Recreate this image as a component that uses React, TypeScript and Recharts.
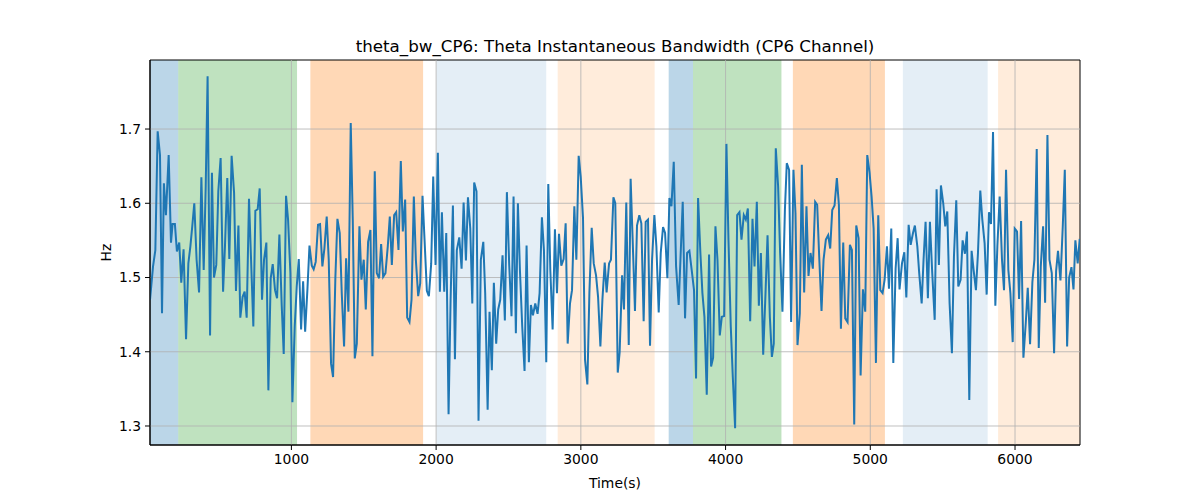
import React from 'react';
import { ComposedChart, Line, XAxis, YAxis, ReferenceArea, ReferenceLine, Label } from 'recharts';

const times = [
  23, 44, 60, 76, 92, 106, 119, 133, 152, 168, 179, 195, 209, 225, 239, 255, 272, 288, 302, 315, 329, 345, 362, 378, 394, 408, 421, 438, 451, 465, 481, 495, 511, 528, 541, 557, 571, 587, 604, 617, 634, 647, 663, 677, 691, 707, 737, 751, 767, 781,
  797, 811, 827, 841, 857, 871, 887, 901, 917, 933, 947, 963, 977, 993, 1007, 1023, 1037, 1051, 1067, 1081, 1095, 1111, 1125, 1141, 1154, 1168, 1184, 1198, 1214, 1228, 1244, 1258, 1274, 1288, 1304, 1318, 1334, 1348, 1364, 1378, 1394, 1410, 1424, 1438, 1452, 1470, 1484, 1500, 1514, 1530,
  1546, 1560, 1576, 1590, 1606, 1620, 1634, 1650, 1666, 1680, 1694, 1710, 1724, 1740, 1756, 1770, 1786, 1800, 1816, 1830, 1846, 1860, 1876, 1890, 1906, 1920, 1936, 1950, 1966, 1980, 1996, 2012, 2026, 2040, 2056, 2070, 2086, 2100, 2116, 2130, 2143, 2160, 2176, 2190, 2206, 2220,
  2236, 2250, 2263, 2279, 2293, 2309, 2326, 2339, 2356, 2369, 2385, 2399, 2415, 2429, 2443, 2459, 2475, 2489, 2505, 2521, 2535, 2551, 2565, 2579, 2595, 2611, 2625, 2641, 2655, 2669, 2685, 2701, 2715, 2731, 2745, 2761, 2775, 2789, 2805, 2821, 2835, 2849, 2865, 2881, 2895, 2909,
  2925, 2939, 2955, 2969, 2985, 2999, 3015, 3029, 3045, 3059, 3075, 3089, 3105, 3119, 3135, 3149, 3165, 3178, 3195, 3208, 3225, 3238, 3255, 3268, 3285, 3298, 3314, 3331, 3344, 3358, 3374, 3388, 3404, 3418, 3434, 3448, 3464, 3478, 3492, 3508, 3522, 3538, 3552, 3568, 3582, 3598, 3612,
  3626, 3642, 3658, 3676, 3690, 3704, 3720, 3734, 3750, 3766, 3782, 3796, 3810, 3826, 3840, 3854, 3870, 3886, 3900, 3914, 3930, 3944, 3960, 3974, 3990, 4006, 4020, 4036, 4050, 4066, 4080, 4096, 4110, 4126, 4140, 4154, 4170, 4186, 4200, 4216, 4230, 4244, 4260, 4276, 4290, 4306,
  4320, 4333, 4347, 4363, 4377, 4393, 4410, 4423, 4439, 4453, 4469, 4483, 4497, 4513, 4527, 4543, 4559, 4573, 4587, 4603, 4619, 4633, 4647, 4663, 4677, 4693, 4709, 4723, 4737, 4753, 4769, 4783, 4797, 4813, 4827, 4843, 4859, 4873, 4889, 4903, 4919, 4933, 4949, 4965, 4979, 4995,
  5009, 5023, 5039, 5055, 5069, 5085, 5099, 5115, 5129, 5145, 5159, 5175, 5189, 5202, 5219, 5235, 5249, 5265, 5279, 5295, 5308, 5325, 5338, 5355, 5368, 5382, 5398, 5412, 5428, 5445, 5458, 5474, 5488, 5504, 5518, 5532, 5548, 5564, 5578, 5594, 5608, 5624, 5638, 5654, 5668, 5684,
  5700, 5714, 5730, 5744, 5760, 5774, 5790, 5804, 5820, 5834, 5848, 5864, 5878, 5894, 5910, 5924, 5938, 5954, 5968, 5984, 5998, 6014, 6028, 6042, 6058, 6074, 6088, 6104, 6120, 6134, 6150, 6164, 6178, 6194, 6208, 6224, 6238, 6254, 6270, 6284, 6297, 6314, 6330, 6344, 6360, 6374, 6390, 6404, 6417, 6433, 6447,
];

const hzValues = [
  1.470, 1.515, 1.537, 1.697, 1.665, 1.452, 1.627, 1.584, 1.665, 1.547, 1.572, 1.572, 1.535, 1.547, 1.493, 1.538, 1.417, 1.519, 1.542, 1.569, 1.600, 1.524, 1.480, 1.635, 1.510, 1.623, 1.771, 1.422, 1.641, 1.500, 1.517, 1.616, 1.661, 1.481, 1.542, 1.634, 1.525, 1.664, 1.614, 1.482, 1.570, 1.446, 1.474, 1.481, 1.446, 1.606, 1.434, 1.590, 1.592, 1.620,
  1.470, 1.524, 1.547, 1.348, 1.499, 1.518, 1.483, 1.472, 1.558, 1.463, 1.397, 1.610, 1.578, 1.506, 1.332, 1.434, 1.488, 1.525, 1.430, 1.495, 1.427, 1.485, 1.543, 1.516, 1.511, 1.521, 1.571, 1.572, 1.515, 1.539, 1.582, 1.524, 1.384, 1.366, 1.501, 1.579, 1.560, 1.479, 1.407, 1.526, 1.454, 1.708, 1.578, 1.391, 1.411, 1.569, 1.497, 1.524, 1.457, 1.548,
  1.564, 1.394, 1.643, 1.506, 1.499, 1.545, 1.501, 1.506, 1.542, 1.582, 1.517, 1.584, 1.588, 1.537, 1.657, 1.562, 1.605, 1.446, 1.440, 1.470, 1.609, 1.524, 1.475, 1.492, 1.610, 1.551, 1.482, 1.475, 1.519, 1.636, 1.517, 1.668, 1.481, 1.588, 1.481, 1.560, 1.316, 1.470, 1.597, 1.390, 1.537, 1.554, 1.512, 1.601, 1.523, 1.608,
  1.566, 1.465, 1.628, 1.616, 1.307, 1.524, 1.548, 1.479, 1.322, 1.454, 1.375, 1.493, 1.411, 1.457, 1.470, 1.530, 1.442, 1.615, 1.517, 1.448, 1.609, 1.425, 1.600, 1.510, 1.434, 1.374, 1.543, 1.386, 1.463, 1.449, 1.465, 1.451, 1.479, 1.581, 1.537, 1.386, 1.626, 1.510, 1.430, 1.565, 1.479, 1.559, 1.516, 1.525, 1.573, 1.411,
  1.465, 1.483, 1.596, 1.524, 1.664, 1.636, 1.580, 1.389, 1.356, 1.479, 1.567, 1.519, 1.503, 1.474, 1.407, 1.470, 1.520, 1.480, 1.519, 1.524, 1.608, 1.600, 1.372, 1.399, 1.503, 1.457, 1.601, 1.409, 1.633, 1.551, 1.455, 1.570, 1.584, 1.573, 1.441, 1.575, 1.578, 1.408, 1.524, 1.584, 1.542, 1.453, 1.533, 1.568, 1.560, 1.499, 1.607,
  1.596, 1.656, 1.515, 1.463, 1.533, 1.602, 1.445, 1.533, 1.536, 1.510, 1.483, 1.364, 1.607, 1.533, 1.479, 1.447, 1.342, 1.531, 1.380, 1.392, 1.569, 1.524, 1.422, 1.447, 1.448, 1.680, 1.551, 1.434, 1.366, 1.297, 1.584, 1.588, 1.551, 1.584, 1.578, 1.593, 1.441, 1.579, 1.515, 1.602, 1.462, 1.533, 1.396, 1.479, 1.557, 1.447,
  1.393, 1.411, 1.674, 1.623, 1.533, 1.454, 1.591, 1.654, 1.645, 1.440, 1.645, 1.587, 1.409, 1.452, 1.652, 1.480, 1.596, 1.502, 1.533, 1.512, 1.602, 1.598, 1.528, 1.455, 1.524, 1.551, 1.557, 1.539, 1.591, 1.597, 1.634, 1.598, 1.431, 1.547, 1.445, 1.440, 1.544, 1.537, 1.302, 1.570, 1.553, 1.368, 1.484, 1.454, 1.665, 1.641,
  1.609, 1.566, 1.385, 1.584, 1.483, 1.479, 1.497, 1.542, 1.485, 1.566, 1.385, 1.512, 1.553, 1.484, 1.519, 1.534, 1.473, 1.571, 1.544, 1.560, 1.570, 1.542, 1.506, 1.465, 1.524, 1.575, 1.472, 1.575, 1.506, 1.443, 1.619, 1.517, 1.624, 1.600, 1.569, 1.589, 1.465, 1.398, 1.528, 1.604, 1.488, 1.497, 1.550, 1.532, 1.562, 1.335,
  1.536, 1.510, 1.483, 1.533, 1.617, 1.578, 1.546, 1.477, 1.588, 1.572, 1.696, 1.462, 1.542, 1.609, 1.524, 1.483, 1.645, 1.510, 1.479, 1.413, 1.566, 1.562, 1.471, 1.576, 1.392, 1.438, 1.486, 1.410, 1.494, 1.524, 1.673, 1.405, 1.515, 1.569, 1.466, 1.692, 1.524, 1.506, 1.398, 1.509, 1.536, 1.496, 1.569, 1.645, 1.407, 1.500, 1.514, 1.484, 1.550, 1.519, 1.552,
];

const spanStarts = [23, 218, 1131, 2002, 2840, 3607, 3775, 4465, 5225, 5883];
const spanEnds = [218, 1039, 1910, 2761, 3510, 3775, 4386, 5101, 5811, 6449];
const spanColors = ['#1f77b4', '#2ca02c', '#ff7f0e', '#1f77b4', '#ff7f0e', '#1f77b4', '#2ca02c', '#ff7f0e', '#1f77b4', '#ff7f0e'];
const spanOpacities = [0.3, 0.3, 0.3, 0.12, 0.15, 0.3, 0.3, 0.3, 0.12, 0.15];

const xTicks = [1000, 2000, 3000, 4000, 5000, 6000];
const yTicks = [1.3, 1.4, 1.5, 1.6, 1.7];
const xDomain = [23, 6449];
const yDomain = [1.2744, 1.793];

const data = times.map((t, i) => ({ t, v: hzValues[i] }));

const FONT = 'DejaVu Sans, sans-serif';
const GRID = '#b0b0b0';

export default function App() {
  return (
    <div style={{ position: 'absolute', left: 0, top: 0, width: 1200, height: 500, background: '#fff', fontFamily: FONT }}>
      <div
        style={{
          position: 'absolute',
          left: 0,
          top: 36,
          width: 1230,
          textAlign: 'center',
          fontSize: 16.7,
          lineHeight: '20px',
          color: '#000',
          fontFamily: FONT,
        }}
      >
        theta_bw_CP6: Theta Instantaneous Bandwidth (CP6 Channel)
      </div>
      <ComposedChart width={1200} height={500} data={data} margin={{ top: 60, right: 120, bottom: 0, left: 0 }}>
        {spanStarts.map((s, i) => (
          <ReferenceArea
            key={'span' + i}
            x1={s}
            x2={spanEnds[i]}
            y1={yDomain[0]}
            y2={yDomain[1]}
            fill={spanColors[i]}
            fillOpacity={spanOpacities[i]}
            stroke="none"
            ifOverflow="hidden"
          />
        ))}
        {xTicks.map((x) => (
          <ReferenceLine key={'gx' + x} x={x} stroke={GRID} strokeWidth={0.8} />
        ))}
        {yTicks.map((y) => (
          <ReferenceLine key={'gy' + y} y={y} stroke={GRID} strokeWidth={0.8} />
        ))}
        <XAxis
          dataKey="t"
          type="number"
          domain={xDomain}
          ticks={xTicks}
          allowDataOverflow
          height={55}
          tickSize={5}
          tickMargin={4}
          stroke="#000"
          tick={{ fill: '#000', fontSize: 13.9, fontFamily: FONT }}
          tickLine={{ stroke: '#000' }}
          axisLine={{ stroke: '#000' }}
        >
          <Label value="Time(s)" position="insideBottom" offset={12} style={{ fontSize: 13.9, fontFamily: FONT, fill: '#000' }} />
        </XAxis>
        <YAxis
          type="number"
          domain={yDomain}
          ticks={yTicks}
          allowDataOverflow
          width={150}
          tickSize={5}
          tickMargin={4}
          tickFormatter={(v) => v.toFixed(1)}
          tick={{ fill: '#000', fontSize: 13.9, fontFamily: FONT }}
          tickLine={{ stroke: '#000' }}
          axisLine={{ stroke: '#000' }}
        >
          <Label value="Hz" angle={-90} position="insideLeft" offset={106} style={{ fontSize: 13.9, fontFamily: FONT, fill: '#000', textAnchor: 'middle' }} />
        </YAxis>
        <ReferenceArea
          x1={xDomain[0]}
          x2={xDomain[1]}
          y1={yDomain[0]}
          y2={yDomain[1]}
          fill="none"
          stroke="#000"
          strokeWidth={1}
        />
        <Line
          type="linear"
          dataKey="v"
          stroke="#1f77b4"
          strokeWidth={2}
          dot={false}
          isAnimationActive={false}
        />
      </ComposedChart>
    </div>
  );
}
